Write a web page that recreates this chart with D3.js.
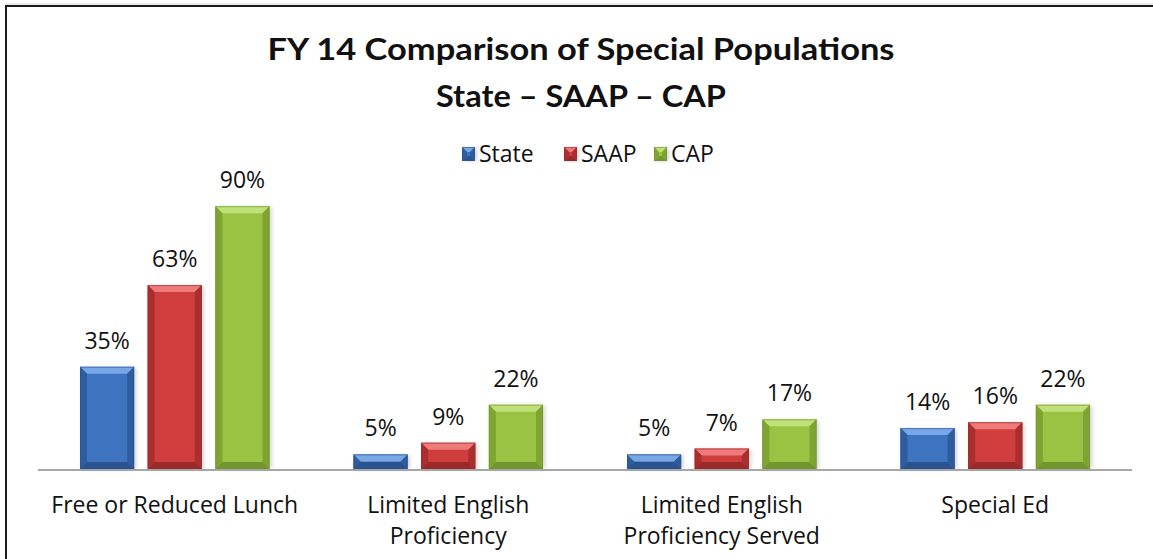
<!DOCTYPE html>
<html>
<head>
<meta charset="utf-8">
<script src="https://cdn.jsdelivr.net/npm/d3@7/dist/d3.min.js"></script>
<style>
  html, body { margin: 0; padding: 0; background: #fff; }
  svg { display: block; }
  text { font-family: "Open Sans", Lato, sans-serif; fill: #111; }
  .title { font-family: Lato, "Open Sans", sans-serif; }
</style>
</head>
<body>
<svg id="chart" width="1153" height="559"></svg>
<script>
// Chart data
const categories = [
  ["Free or Reduced Lunch"],
  ["Limited English", "Proficiency"],
  ["Limited English", "Proficiency Served"],
  ["Special Ed"]
];
const seriesNames = ["State", "SAAP", "CAP"];
const stateValues = [35, 5, 5, 14];
const saapValues = [63, 9, 7, 16];
const capValues = [90, 22, 17, 22];
const titleLines = ["FY 14 Comparison of Special Populations", "State \u2013 SAAP \u2013 CAP"];

// Bar palette: face, top bevel, side/bottom shade
const palette = [
  { face: "#3e73c0", top: "#79a7e6", side: "#2f5c9e", bottom: "#2a5390" },
  { face: "#cf3d3d", top: "#ee7a7a", side: "#a92f2f", bottom: "#9a2a2a" },
  { face: "#9bc343", top: "#c0e07a", side: "#7fa433", bottom: "#72952d" }
];

const series = [stateValues, saapValues, capValues];
const svg = d3.select("#chart");
const W = 1153, H = 559;
const FS = 23;

// Outer frame (open at right and bottom edges)
svg.append("line").attr("x1", 5).attr("x2", W).attr("y1", 4).attr("y2", 4)
  .attr("stroke", "#d8d8d8").attr("stroke-width", 1);
svg.append("path")
  .attr("d", `M6,${H} L6,6 L${W},6`)
  .attr("fill", "none").attr("stroke", "#1c1c1c").attr("stroke-width", 2);

// Title
const title = svg.append("g");
titleLines.forEach((t, i) => {
  title.append("text").attr("class", "title")
    .attr("x", 581).attr("y", 60 + i * 47)
    .attr("text-anchor", "middle")
    .attr("font-size", 31).attr("font-weight", "bold")
    .attr("textLength", i === 0 ? 627 : 290)
    .attr("lengthAdjust", "spacingAndGlyphs")
    .text(t);
});

// Scales
const x0 = d3.scaleBand().domain(d3.range(categories.length)).range([38, 1132]).paddingInner(0).paddingOuter(0);
const x1 = d3.scaleBand().domain(d3.range(seriesNames.length)).range([42, x0.bandwidth() - 42]).paddingInner(0.2).paddingOuter(0);
const y = d3.scaleLinear().domain([0, 100]).range([469, 177]);

const defs = svg.append("defs");
const blur = defs.append("filter").attr("id", "shadow").attr("x", "-20%").attr("y", "-20%").attr("width", "140%").attr("height", "140%");
blur.append("feGaussianBlur").attr("stdDeviation", 2);

// Bevelled bar drawn as face + four edge facets
function bevelBar(g, x, yTop, w, h, c, b) {
  b = Math.min(b, h / 2, w / 2);
  g.append("rect").attr("x", x + 2).attr("y", yTop + 1).attr("width", w).attr("height", h - 1)
    .attr("fill", "#000").attr("opacity", 0.18).attr("filter", "url(#shadow)");
  g.append("rect").attr("x", x).attr("y", yTop).attr("width", w).attr("height", h).attr("fill", c.face);
  const poly = (pts, fill) => g.append("polygon").attr("points", pts.map(p => p.join(",")).join(" ")).attr("fill", fill);
  poly([[x, yTop], [x + w, yTop], [x + w - b, yTop + b], [x + b, yTop + b]], c.top);
  poly([[x, yTop], [x + b, yTop + b], [x + b, yTop + h - b], [x, yTop + h]], c.side);
  poly([[x + w, yTop], [x + w - b, yTop + b], [x + w - b, yTop + h - b], [x + w, yTop + h]], c.side);
  poly([[x, yTop + h], [x + b, yTop + h - b], [x + w - b, yTop + h - b], [x + w, yTop + h]], c.bottom);
  g.append("rect").attr("x", x + 0.5).attr("y", yTop + 0.5).attr("width", w - 1).attr("height", h - 1)
    .attr("fill", "none").attr("stroke", c.bottom).attr("stroke-opacity", 0.6);
}

// Bars and value labels
const plot = svg.append("g");
categories.forEach((cat, ci) => {
  const gx = x0(ci);
  series.forEach((vals, si) => {
    const v = vals[ci];
    const bx = gx + x1(si);
    const bw = x1.bandwidth();
    const top = y(v);
    bevelBar(plot, bx, top, bw, y(0) - top, palette[si], 7);
    plot.append("text")
      .attr("x", bx + bw / 2).attr("y", top - 18)
      .attr("text-anchor", "middle").attr("font-size", FS)
      .text(v + "%");
  });
});

// Baseline
svg.append("line").attr("x1", 38).attr("x2", 1132).attr("y1", y(0) + 1).attr("y2", y(0) + 1)
  .attr("stroke", "#a6a6a6").attr("stroke-width", 2);

// Category labels
categories.forEach((lines, ci) => {
  const t = svg.append("text")
    .attr("x", x0(ci) + x0.bandwidth() / 2).attr("y", 513)
    .attr("text-anchor", "middle").attr("font-size", FS);
  lines.forEach((ln, li) => {
    t.append("tspan").attr("x", x0(ci) + x0.bandwidth() / 2).attr("dy", li === 0 ? 0 : 31).text(ln);
  });
});

// Legend
const legendItems = [
  { name: seriesNames[0], x: 462 },
  { name: seriesNames[1], x: 564 },
  { name: seriesNames[2], x: 654 }
];
legendItems.forEach((it, i) => {
  const g = svg.append("g");
  bevelBar(g, it.x, 147, 13, 14, palette[i], 5);
  g.append("text").attr("x", it.x + 17).attr("y", 162).attr("font-size", FS).text(it.name);
});
</script>
</body>
</html>
